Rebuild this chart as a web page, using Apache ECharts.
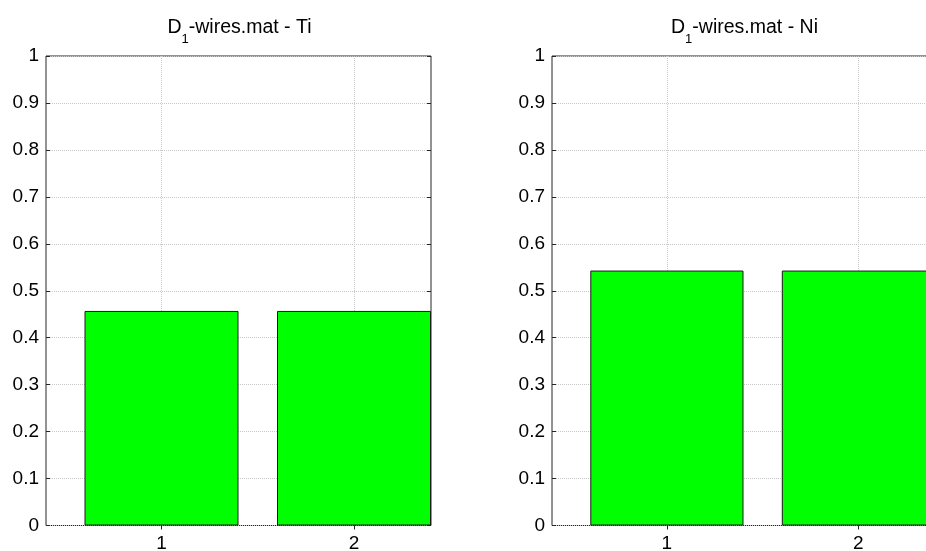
<!DOCTYPE html>
<html>
<head>
<meta charset="utf-8">
<script src="https://cdn.jsdelivr.net/npm/echarts@6/dist/echarts.min.js"></script>
<style>
  html, body { margin: 0; padding: 0; background: #fff; }
  #chart { width: 926px; height: 551px; }
</style>
</head>
<body>
<div id="chart"></div>
<script>
// 数据
const categories = [1, 2]
const tiValues = [0.457, 0.457]
const niValues = [0.543, 0.543]
const titles = ['D{sub|1}-wires.mat - Ti', 'D{sub|1}-wires.mat - Ni']
const yTicks = [0, 0.1, 0.2, 0.3, 0.4, 0.5, 0.6, 0.7, 0.8, 0.9, 1]

const chart = echarts.init(document.getElementById('chart'))

const font = 'Liberation Sans, Arial, sans-serif'
const frameColor = '#262626'
const gridLine = { show: true, lineStyle: { color: '#c8c8c8', type: [1, 1], width: 1 } }

// 两个子图的位置（右图超出画布被裁切）
const panels = [
  { left: 46, width: 385, values: tiValues },
  { left: 552, width: 383, values: niValues }
]

const grid = []
const xAxis = []
const yAxis = []
const series = []
const title = []

panels.forEach((p, i) => {
  grid.push({
    left: p.left, top: 56, width: p.width, height: 469.5,
    outerBoundsMode: 'none',
    show: true, borderColor: frameColor, borderWidth: 1, backgroundColor: '#fff'
  })
  title.push({
    text: titles[i],
    left: p.left + p.width / 2 - 4,
    top: 4,
    textAlign: 'center',
    textStyle: {
      fontFamily: font, fontSize: 19.5, fontWeight: 'normal', color: '#000',
      rich: {
        sub: { fontFamily: font, fontSize: 13, color: '#000', padding: [24, 0, 0, 0] }
      }
    }
  })
  // 下方 x 轴
  xAxis.push({
    type: 'value', gridIndex: i, min: 0.4, max: 2.4, position: 'bottom',
    axisLine: { show: false },
    axisTick: { show: true, inside: true, length: 4, customValues: categories, lineStyle: { color: frameColor } },
    axisLabel: { customValues: categories, margin: 9, fontFamily: font, fontSize: 19, color: '#000' },
    splitLine: gridLine
  })
  // 上方 x 轴（只画刻度）
  xAxis.push({
    type: 'value', gridIndex: i, min: 0.4, max: 2.4, position: 'top',
    axisLine: { show: false },
    axisTick: { show: true, inside: true, length: 4, customValues: categories, lineStyle: { color: frameColor } },
    axisLabel: { show: false },
    splitLine: { show: false }
  })
  yAxis.push({
    type: 'value', gridIndex: i, min: 0, max: 1, interval: 0.1, position: 'left',
    axisLine: { show: false },
    axisTick: { show: true, inside: true, length: 4, lineStyle: { color: frameColor } },
    axisLabel: { margin: 7, fontFamily: font, fontSize: 19, color: '#000' },
    splitLine: gridLine
  })
  yAxis.push({
    type: 'value', gridIndex: i, min: 0, max: 1, interval: 0.1, position: 'right',
    axisLine: { show: false },
    axisTick: { show: true, inside: true, length: 4, lineStyle: { color: frameColor } },
    axisLabel: { show: false },
    splitLine: { show: false }
  })
  series.push({
    type: 'bar',
    xAxisIndex: i * 2,
    yAxisIndex: i * 2,
    barWidth: '80%',
    data: categories.map((c, k) => [c, p.values[k]]),
    itemStyle: { color: '#00ff00', borderColor: '#1a1a1a', borderWidth: 1 },
    z: 3
  })
})

chart.setOption({
  animation: false,
  title,
  grid,
  xAxis,
  yAxis,
  series
})
</script>
</body>
</html>
